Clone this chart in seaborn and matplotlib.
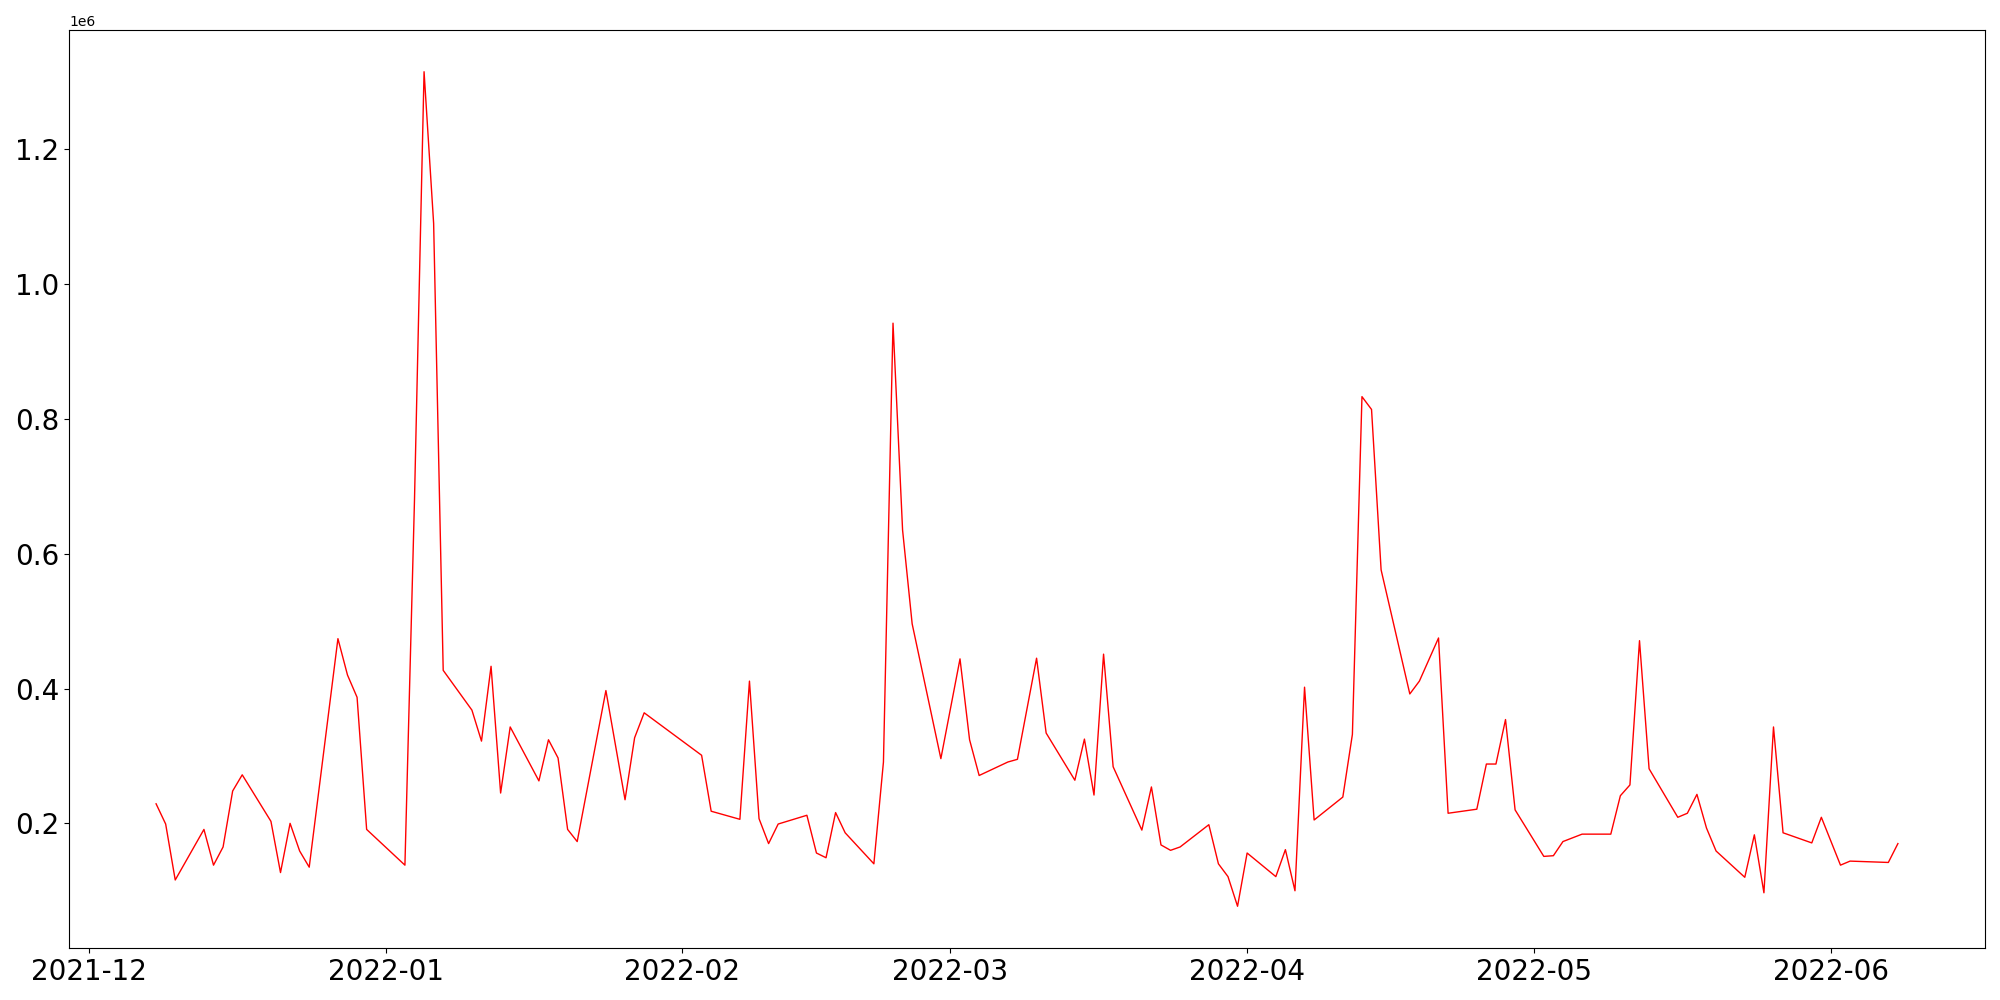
import matplotlib
matplotlib.use("Agg")
import matplotlib.pyplot as plt
import matplotlib.dates as mdates
import seaborn as sns
import pandas as pd

dates = [
    "2021-12-08", "2021-12-09", "2021-12-10", "2021-12-13", "2021-12-14", "2021-12-15",
    "2021-12-16", "2021-12-17", "2021-12-20", "2021-12-21", "2021-12-22", "2021-12-23",
    "2021-12-24", "2021-12-27", "2021-12-28", "2021-12-29", "2021-12-30",
    "2022-01-03", "2022-01-04", "2022-01-05", "2022-01-06", "2022-01-07",
    "2022-01-10", "2022-01-11", "2022-01-12", "2022-01-13", "2022-01-14",
    "2022-01-17", "2022-01-18", "2022-01-19", "2022-01-20", "2022-01-21",
    "2022-01-24", "2022-01-26", "2022-01-27", "2022-01-28",
    "2022-02-03", "2022-02-04",
    "2022-02-07", "2022-02-08", "2022-02-09", "2022-02-10", "2022-02-11",
    "2022-02-14", "2022-02-15", "2022-02-16", "2022-02-17", "2022-02-18",
    "2022-02-21", "2022-02-22", "2022-02-23", "2022-02-24", "2022-02-25",
    "2022-02-28", "2022-03-02", "2022-03-03", "2022-03-04",
    "2022-03-07", "2022-03-08", "2022-03-10", "2022-03-11",
    "2022-03-14", "2022-03-15", "2022-03-16", "2022-03-17", "2022-03-18",
    "2022-03-21", "2022-03-22", "2022-03-23", "2022-03-24", "2022-03-25",
    "2022-03-28", "2022-03-29", "2022-03-30", "2022-03-31", "2022-04-01",
    "2022-04-04", "2022-04-05", "2022-04-06", "2022-04-07", "2022-04-08",
    "2022-04-11", "2022-04-12", "2022-04-13", "2022-04-14", "2022-04-15",
    "2022-04-18", "2022-04-19", "2022-04-21", "2022-04-22",
    "2022-04-25", "2022-04-26", "2022-04-27", "2022-04-28", "2022-04-29",
    "2022-05-02", "2022-05-03", "2022-05-04", "2022-05-06",
    "2022-05-09", "2022-05-10", "2022-05-11", "2022-05-12", "2022-05-13",
    "2022-05-16", "2022-05-17", "2022-05-18", "2022-05-19", "2022-05-20",
    "2022-05-23", "2022-05-24", "2022-05-25", "2022-05-26", "2022-05-27",
    "2022-05-30", "2022-05-31", "2022-06-02", "2022-06-03",
    "2022-06-07", "2022-06-08",
]

volume = [
    229000, 199000, 116000, 191000, 138000, 165000,
    248000, 272000, 203000, 127000, 200000, 159000,
    135000, 474000, 420000, 387000, 191000,
    138000, 680000, 1315000, 1090000, 427000,
    368000, 322000, 433000, 245000, 343000,
    263000, 324000, 297000, 191000, 173000,
    397000, 235000, 327000, 364000,
    301000, 218000,
    206000, 411000, 207000, 170000, 199000,
    212000, 156000, 149000, 216000, 186000,
    140000, 291000, 942000, 635000, 496000,
    296000, 444000, 324000, 271000,
    291000, 295000, 445000, 334000,
    264000, 325000, 242000, 451000, 284000,
    190000, 254000, 168000, 160000, 165000,
    198000, 140000, 121000, 77000, 156000,
    121000, 161000, 100000, 402000, 205000,
    239000, 332000, 833000, 814000, 576000,
    392000, 411000, 475000, 215000,
    221000, 288000, 288000, 354000, 220000,
    151000, 152000, 173000, 184000,
    184000, 241000, 257000, 471000, 281000,
    209000, 215000, 243000, 193000, 159000,
    120000, 183000, 97000, 343000, 186000,
    171000, 209000, 138000, 144000,
    142000, 170000,
]

df = pd.DataFrame({"date": pd.to_datetime(dates), "volume": volume})

fig, ax = plt.subplots(figsize=(20, 10), dpi=100)
sns.lineplot(data=df, x="date", y="volume", color="red", linewidth=1.0, ax=ax)

ax.set_xlabel("")
ax.set_ylabel("")
ax.xaxis.set_major_locator(mdates.MonthLocator())
ax.xaxis.set_major_formatter(mdates.DateFormatter("%Y-%m"))
ax.tick_params(axis="both", labelsize=20)

fig.subplots_adjust(left=0.0345, right=0.9925, top=0.97, bottom=0.052)
fig.savefig("out.png", dpi=100)
